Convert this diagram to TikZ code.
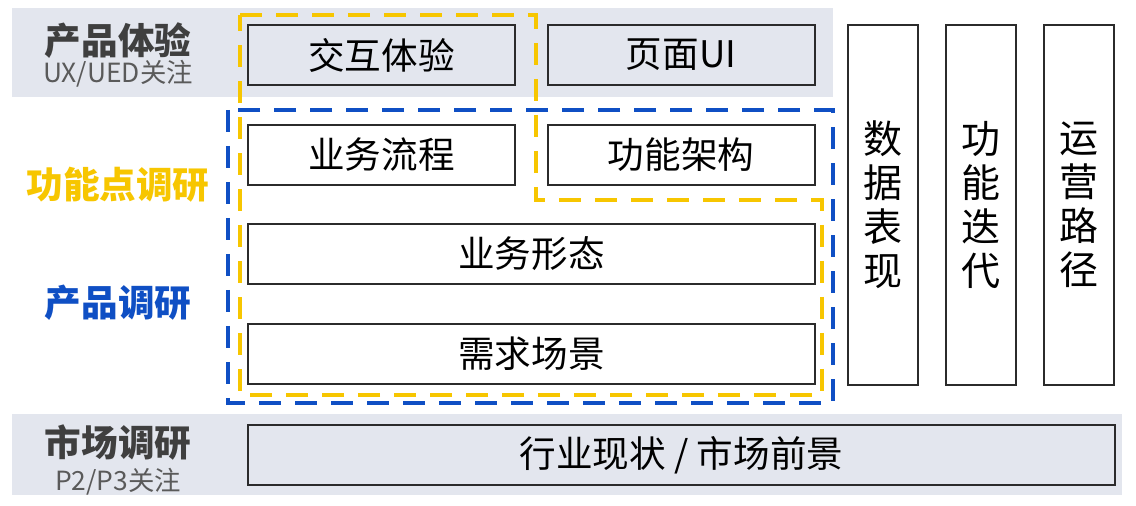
\documentclass[tikz,border=0pt]{standalone}
\usepackage{fontspec}
\setmainfont{Noto Sans CJK SC}
\begin{document}
\definecolor{bandgray}{HTML}{E3E6EE}
\definecolor{boxline}{HTML}{2B2B2B}
\definecolor{labelgray}{HTML}{3F3F3F}
\definecolor{subgray}{HTML}{5A5A5A}
\definecolor{hlyellow}{HTML}{F7C600}
\definecolor{hlblue}{HTML}{0F4FC4}
\begin{tikzpicture}[x=0.5pt,y=-0.5pt,
  box/.style={draw=boxline,line width=1pt,fill=white,inner sep=0pt,
    font=\fontsize{18.3}{22}\selectfont,text=black},
  bandbox/.style={box,fill=bandgray},
  widebox/.style={minimum width=133.5pt,minimum height=30pt},
  fullbox/.style={minimum width=283.5pt,minimum height=30pt},
  tallbox/.style={box,minimum width=35pt,minimum height=180pt,align=center,
    font=\fontsize{19.5}{22}\selectfont},
  layertitle/.style={font=\fontsize{18.3}{21}\selectfont\bfseries,text=labelgray},
  layernote/.style={font=\fontsize{13.2}{15}\selectfont,text=subgray},
  band/.style={fill=bandgray,draw=none},
  yellowzone/.style={draw=hlyellow,line width=2.2pt,dash pattern=on 11pt off 7pt},
  bluezone/.style={draw=hlblue,line width=2.2pt,dash pattern=on 11pt off 7pt}]
\useasboundingbox[fill=white] (0,0) rectangle (1136,506);

% grey layer bands
\fill[band] (12,8) rectangle (833,97);
\fill[band] (12,414) rectangle (1122,495);

% layer titles
\node[layertitle] (tUX) at (118,41) {产品体验};
\node[layernote] (nUX) at (118,74) {UX/UED关注};
\node[layertitle,text=hlyellow] (tFunc) at (118,185) {功能点调研};
\node[layertitle,text=hlblue] (tProd) at (118,303) {产品调研};
\node[layertitle] (tMkt) at (118,443) {市场调研};
\node[layernote] (nMkt) at (118,482) {P2/P3关注};

% research zones
\draw[bluezone] (228,110) rectangle (833,403);
\draw[yellowzone] (240,15) -- (536,15) -- (536,200) -- (822,200)
  -- (822,395) -- (240,395) -- cycle;

% content boxes
\node[bandbox,widebox] (ix) at (381.5,55) {交互体验};
\node[bandbox,widebox] (ui) at (681,55) {页面UI};
\node[box,widebox] (flow) at (381.5,155) {业务流程};
\node[box,widebox] (arch) at (681,155) {功能架构};
\node[box,fullbox] (form) at (531.5,254) {业务形态};
\node[box,fullbox] (scene) at (531.5,354) {需求场景};
\node[bandbox,minimum width=433.5pt,minimum height=30pt] (market) at (681.5,455) {行业现状 / 市场前景};

% vertical columns
\node[tallbox] (data) at (883,205) {数\\据\\表\\现};
\node[tallbox] (iter) at (981,205) {功\\能\\迭\\代};
\node[tallbox] (ops) at (1079,205) {运\\营\\路\\径};
\end{tikzpicture}
\end{document}
